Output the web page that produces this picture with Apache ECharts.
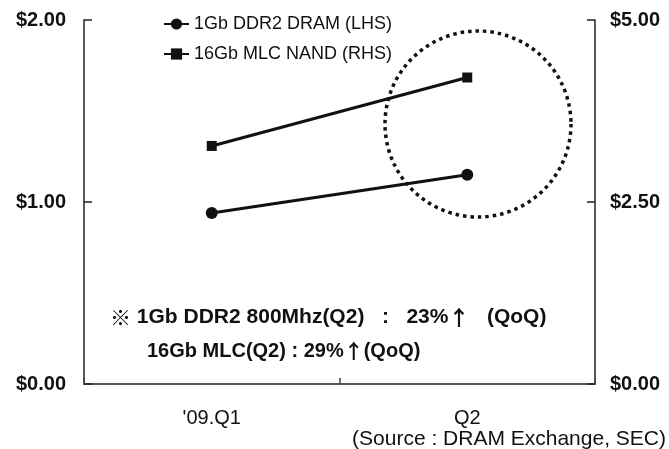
<!DOCTYPE html>
<html>
<head>
<meta charset="utf-8">
<script src="https://cdn.jsdelivr.net/npm/echarts@6/dist/echarts.min.js"></script>
<style>
  html, body { margin: 0; padding: 0; background: #fff; }
  #chart { width: 669px; height: 449px; }
</style>
</head>
<body>
<div id="chart"></div>
<script>
// Quarterly contract prices
const quarters = ["'09.Q1", 'Q2'];
const dramPrice = [0.94, 1.15];   // 1Gb DDR2 DRAM, USD (left axis)
const nandPrice = [3.27, 4.21];   // 16Gb MLC NAND, USD (right axis)
const leftTicks = { min: 0, max: 2, interval: 1 };
const rightTicks = { min: 0, max: 5, interval: 2.5 };
const dramName = '1Gb DDR2 DRAM (LHS)';
const nandName = '16Gb MLC NAND (RHS)';
const noteLines = [
  '{m|\u203B} 1Gb DDR2 800Mhz(Q2)   :   23%{a|\u2191}   (QoQ)',
  '16Gb MLC(Q2) : 29%{a|\u2191}(QoQ)'
];
const sourceText = '(Source : DRAM Exchange, SEC)';

const FONT = '"Liberation Sans", Arial, Helvetica, sans-serif';
const CJK = '"Noto Sans CJK KR", "Noto Sans CJK SC", sans-serif';
const INK = '#111';

const chart = echarts.init(document.getElementById('chart'), null, { renderer: 'canvas' });

const money = v => '$' + v.toFixed(2);

const valueAxis = (t, pos, margin) => ({
  type: 'value',
  position: pos,
  min: t.min, max: t.max, interval: t.interval,
  axisLine: { show: true, lineStyle: { color: '#222', width: 1.5 } },
  axisTick: { show: true, inside: true, length: 8, lineStyle: { color: '#222', width: 1.5 } },
  splitLine: { show: false },
  axisLabel: {
    formatter: money, margin: margin,
    color: INK, fontFamily: FONT, fontSize: 20, fontWeight: 'bold'
  }
});

// bold note text; the reference mark and the arrow come from the CJK face
const noteStyle = (text, size) => ({
  text: text,
  fill: INK,
  fontFamily: FONT, fontSize: size, fontWeight: 'bold',
  rich: {
    m: { fontFamily: CJK, fontSize: size, fontWeight: 'bold', fill: INK },
    a: { fontFamily: CJK, fontSize: size, fontWeight: 'bold', fill: INK }
  }
});

chart.setOption({
  animation: false,
  backgroundColor: '#fff',
  grid: { left: 84, right: 74, top: 20, bottom: 65, containLabel: false },
  legend: {
    orient: 'vertical',
    left: 163, top: 15, padding: 0,
    itemWidth: 25, itemHeight: 14, itemGap: 12,
    textStyle: { color: INK, fontFamily: FONT, fontSize: 18, lineHeight: 18 },
    data: [dramName, nandName]
  },
  xAxis: {
    type: 'category',
    data: quarters,
    boundaryGap: true,
    axisLine: { lineStyle: { color: '#555', width: 2 } },
    axisTick: { show: true, inside: true, length: 6, lineStyle: { color: '#444', width: 1.5 } },
    axisLabel: { color: INK, fontFamily: FONT, fontSize: 20, margin: 24 }
  },
  yAxis: [
    valueAxis(leftTicks, 'left', 18),
    valueAxis(rightTicks, 'right', 15)
  ],
  series: [
    {
      name: dramName, type: 'line', yAxisIndex: 0,
      data: dramPrice,
      symbol: 'circle', symbolSize: 12,
      lineStyle: { color: INK, width: 3 },
      itemStyle: { color: INK }
    },
    {
      name: nandName, type: 'line', yAxisIndex: 1,
      data: nandPrice,
      symbol: 'rect', symbolSize: 10,
      lineStyle: { color: INK, width: 3 },
      itemStyle: { color: INK }
    }
  ],
  graphic: [
    {
      type: 'circle',
      shape: { cx: 478, cy: 124, r: 93 },
      style: { fill: 'none', stroke: INK, lineWidth: 3.5, lineDash: [3.5, 4] },
      z: 5
    },
    { type: 'text', left: 110, top: 307, style: noteStyle(noteLines[0], 21) },
    { type: 'text', left: 147, top: 341, style: noteStyle(noteLines[1], 20) },
    {
      type: 'text', right: 3, top: 429,
      style: { text: sourceText, fill: INK, font: '21px ' + FONT }
    }
  ]
});
</script>
</body>
</html>
